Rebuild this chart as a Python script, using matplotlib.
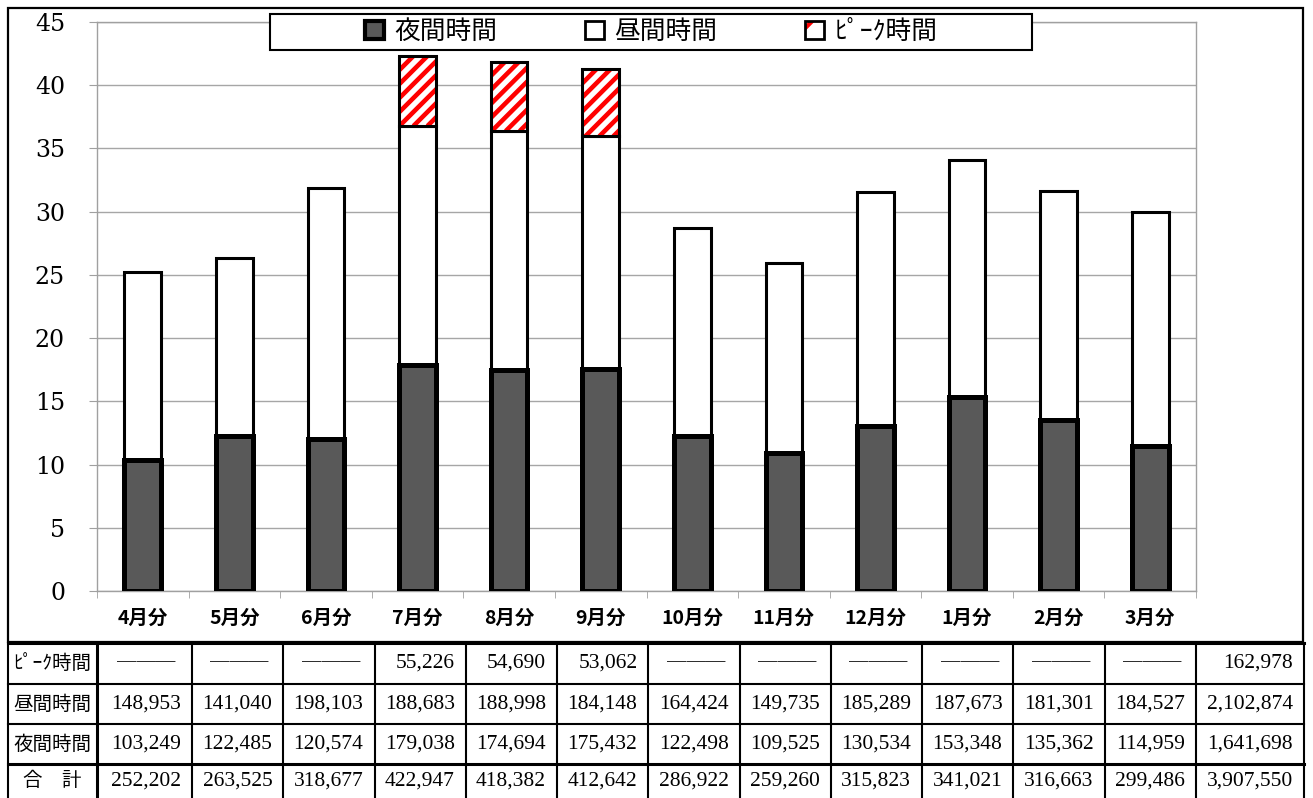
import matplotlib.pyplot as plt
import numpy as np
from matplotlib.patches import Patch, Rectangle
from matplotlib.transforms import IdentityTransform

# 月別使用電力量 (kWh)
months = ['4月分', '5月分', '6月分', '7月分', '8月分', '9月分',
          '10月分', '11月分', '12月分', '1月分', '2月分', '3月分']
peak = [None, None, None, 55226, 54690, 53062,
        None, None, None, None, None, None]
day = [148953, 141040, 198103, 188683, 188998, 184148,
       164424, 149735, 185289, 187673, 181301, 184527]
night = [103249, 122485, 120574, 179038, 174694, 175432,
         122498, 109525, 130534, 153348, 135362, 114959]
row_names = ['ﾋﾟｰｸ時間', '昼間時間', '夜間時間', '合　計']

JP = 'Noto Sans CJK JP'
plt.rcParams['hatch.linewidth'] = 3.0

W, H = 1313, 798
fig = plt.figure(figsize=(W / 100, H / 100), dpi=100)

# グラフ部分 (単位: 万kWh)
ax = fig.add_axes([97 / W, 1 - 591 / H, (1196 - 97) / W, (591 - 22) / H])
x = np.arange(len(months))
n = np.array(night) / 1e4
d = np.array(day) / 1e4
p = np.array([v or 0 for v in peak]) / 1e4
has_peak = p > 0
bw = 0.4

ax.bar(x, d, bottom=n, width=bw, color='white', edgecolor='black', linewidth=2.2, zorder=2)
ax.bar(x, n, width=bw, color='#595959', edgecolor='black', linewidth=3.6, zorder=3)
peak_bars = ax.bar(x[has_peak], p[has_peak], bottom=(n + d)[has_peak], width=bw,
                   facecolor='white', edgecolor='none', zorder=2)
ax.bar(x[has_peak], p[has_peak], bottom=(n + d)[has_peak], width=bw,
       fill=False, edgecolor='black', linewidth=2.2, zorder=4)

ax.set_xlim(-0.5, len(months) - 0.5)
ax.set_ylim(0, 45)
ax.set_yticks(np.arange(0, 46, 5))
ax.yaxis.grid(True, color='#a6a6a6', linewidth=1)
ax.set_axisbelow(True)
for s in ax.spines.values():
    s.set_color('#a0a0a0')
    s.set_linewidth(1)
ax.tick_params(axis='y', length=6, color='#a0a0a0', pad=17, labelsize=17,
               labelfontfamily='DejaVu Serif')
ax.set_xticks(x, months)
ax.set_xticks(np.arange(-0.5, len(months), 1), minor=True)
ax.tick_params(axis='x', which='major', length=0, pad=13)
ax.tick_params(axis='x', which='minor', length=5, color='#a0a0a0')
for lab in ax.get_xticklabels():
    lab.set_family(JP)
    lab.set_fontsize(14)
    lab.set_fontweight('bold')

# ピーク部分の赤い斜線 (画素単位で描いて棒の形で切り抜く)
step = 14
for bar in peak_bars:
    (x0, y0), (x1, y1) = ax.transData.transform(
        [(bar.get_x(), bar.get_y()), (bar.get_x() + bar.get_width(), bar.get_y() + bar.get_height())])
    h = y1 - y0
    for s in np.arange(x0 - h - step, x1 + step, step):
        ln, = ax.plot([s, s + h], [y0, y1], color='red', lw=3.3, transform=IdentityTransform(),
                      solid_capstyle='butt', zorder=3)
        ln.set_clip_path(bar)

# 凡例
fig.add_artist(Rectangle((270 / W, 1 - 50 / H), 762 / W, 36 / H, transform=fig.transFigure,
                         facecolor='white', edgecolor='black', linewidth=1.5, zorder=4))
h_night = Patch(facecolor='#595959', edgecolor='black', linewidth=3)
h_day = Patch(facecolor='white', edgecolor='black', linewidth=2)
h_peak = (Patch(facecolor='white', edgecolor='red', hatch='/', linewidth=0),
          Patch(fill=False, edgecolor='black', linewidth=2))
fig.legend([h_night, h_day, h_peak], ['夜間時間', '昼間時間', 'ﾋﾟｰｸ時間'],
           loc='center', bbox_to_anchor=(651 / W, 1 - 32 / H), ncol=3, frameon=False,
           prop={'family': JP, 'size': 18.5}, handlelength=0.75, handleheight=0.75,
           handletextpad=0.4, columnspacing=3.4)

# 枠と表
tab = fig.add_axes([0, 0, 1, 1], zorder=-1)
tab.set_xlim(0, W)
tab.set_ylim(H, 0)
tab.axis('off')
tab.add_patch(Rectangle((8, 8), 1295, 634, fill=False, edgecolor='black', linewidth=1.6))

col_edges = [8, 97] + list(np.linspace(192, 1196, 12)) + [1304]
row_edges = [643, 684, 724, 764, H]
for i, cx in enumerate(col_edges):
    tab.plot([cx, cx], [row_edges[0], H], color='black', lw=2.2 if i == 1 else 1.5)
for j, ry in enumerate(row_edges[:-1]):
    tab.plot([8, 1304], [ry, ry], color='black', lw=2.2 if j in (0, 3) else 1.5)

total_row = [a + b + (c or 0) for a, b, c in zip(night, day, peak)]
rows = [peak, day, night, total_row]
for j, (name, vals) in enumerate(zip(row_names, rows)):
    yc = (row_edges[j] + row_edges[j + 1]) / 2 if j < 3 else 781
    tab.text(52, yc, name, family=JP, fontsize=14, ha='center', va='center')
    cells = list(vals) + [sum(v or 0 for v in vals)]
    for k, v in enumerate(cells):
        left, right = col_edges[k + 1], col_edges[k + 2]
        if v is None:
            tab.text((left + right) / 2 + 2, yc, '───', family=JP, fontsize=14,
                     ha='center', va='center')
        else:
            tab.text(right - 11, yc, f'{v:,}', family='Liberation Serif', fontsize=15.5,
                     ha='right', va='center')

fig.savefig('out.png', dpi=100)
